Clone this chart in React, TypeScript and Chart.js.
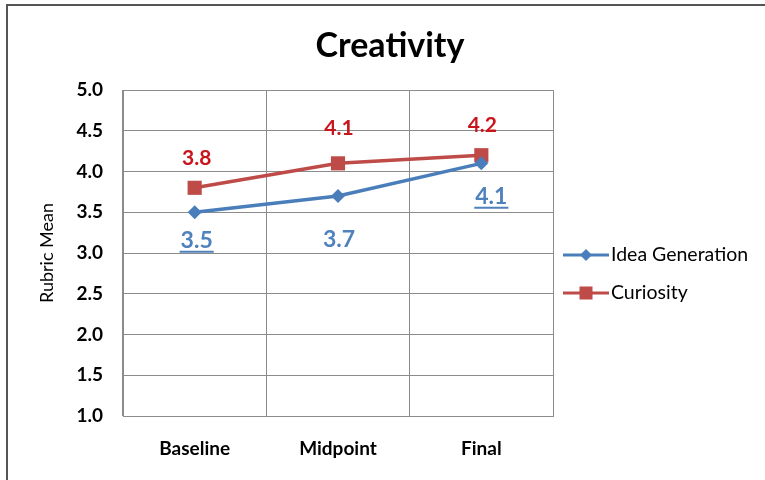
import React, { useEffect, useRef } from "react";
import { Chart, registerables } from "chart.js";

Chart.register(...registerables);

const chartTitle = "Creativity";
const yAxisTitle = "Rubric Mean";
const categories = ["Baseline", "Midpoint", "Final"];
const seriesNames = ["Idea Generation", "Curiosity"];
const ideaGeneration = [3.5, 3.7, 4.1];
const curiosity = [3.8, 4.1, 4.2];
const yMin = 1.0;
const yMax = 5.0;
const yStep = 0.5;

const BLUE = "#4A7EBB";
const RED = "#BE4B48";
const FONT = "Lato, 'DejaVu Sans', sans-serif";

// label placement relative to each point (Excel-style manually placed labels)
const labelStyles = [
  {
    color: "#4F81BD",
    dx: [2, 1, 10],
    dy: [28, 44, 33],
    underline: [true, false, true],
    weight: ["bold", "bold", "bold"],
    size: 23,
  },
  {
    color: "#C8151B",
    dx: [2, 1, 1],
    dy: [-30, -35, -30],
    underline: [false, false, false],
    weight: ["bold", "bold", "bold"],
    size: 21,
  },
];

const labelPlugin = {
  id: "valueLabels",
  afterDatasetsDraw(chart: any) {
    const ctx = chart.ctx;
    chart.data.datasets.forEach((ds: any, di: number) => {
      const meta = chart.getDatasetMeta(di);
      const st = labelStyles[di];
      meta.data.forEach((pt: any, i: number) => {
        const text = Number(ds.data[i]).toFixed(1);
        const x = pt.x + st.dx[i];
        const y = pt.y + st.dy[i];
        ctx.save();
        ctx.font = `${st.weight[i]} ${st.size}px ${FONT}`;
        ctx.fillStyle = st.color;
        ctx.textAlign = "center";
        ctx.textBaseline = "middle";
        ctx.fillText(text, x, y);
        if (st.underline[i]) {
          const w = ctx.measureText(text).width;
          ctx.strokeStyle = st.color;
          ctx.lineWidth = 2;
          ctx.beginPath();
          ctx.moveTo(x - w / 2 - 1, y + st.size * 0.5);
          ctx.lineTo(x + w / 2 + 1, y + st.size * 0.5);
          ctx.stroke();
        }
        ctx.restore();
      });
    });
  },
};

const titleLegendPlugin = {
  id: "titleLegend",
  afterDraw(chart: any) {
    const ctx = chart.ctx;
    ctx.save();
    ctx.font = `bold 34px ${FONT}`;
    ctx.fillStyle = "#000";
    ctx.textAlign = "center";
    ctx.textBaseline = "middle";
    ctx.fillText(chartTitle, 390, 46);

    const area = chart.chartArea;
    const lx = area.right + 10;
    const ys = [area.top + 165, area.top + 203];
    chart.data.datasets.forEach((ds: any, di: number) => {
      const y = ys[di];
      ctx.strokeStyle = ds.borderColor;
      ctx.lineWidth = 3;
      ctx.beginPath();
      ctx.moveTo(lx, y);
      ctx.lineTo(lx + 46, y);
      ctx.stroke();
      ctx.fillStyle = ds.backgroundColor;
      if (ds.pointStyle === "rect") {
        ctx.fillRect(lx + 23 - 6.5, y - 6.5, 13, 13);
      } else {
        ctx.beginPath();
        ctx.moveTo(lx + 23, y - 6);
        ctx.lineTo(lx + 29, y);
        ctx.lineTo(lx + 23, y + 6);
        ctx.lineTo(lx + 17, y);
        ctx.closePath();
        ctx.fill();
      }
      ctx.font = `19.5px ${FONT}`;
      ctx.fillStyle = "#000";
      ctx.textAlign = "left";
      ctx.textBaseline = "middle";
      ctx.fillText(ds.label, lx + 48, y);
    });
    ctx.restore();
  },
};

export default function App() {
  const ref = useRef<HTMLCanvasElement | null>(null);

  useEffect(() => {
    if (!ref.current) return;
    const chart = new Chart(ref.current, {
      type: "line",
      data: {
        labels: categories,
        datasets: [
          {
            label: seriesNames[0],
            data: ideaGeneration,
            borderColor: BLUE,
            backgroundColor: BLUE,
            borderWidth: 3.5,
            pointStyle: "rectRot",
            pointRadius: 7,
            pointBorderWidth: 0,
            tension: 0,
          },
          {
            label: seriesNames[1],
            data: curiosity,
            borderColor: RED,
            backgroundColor: RED,
            borderWidth: 3.5,
            pointStyle: "rect",
            pointRadius: 10,
            pointBorderWidth: 0,
            tension: 0,
          },
        ],
      },
      options: {
        responsive: false,
        animation: false,
        layout: { padding: { top: 90, right: 212, left: 0, bottom: 0 } },
        plugins: {
          legend: { display: false },
          title: { display: false },
          tooltip: { enabled: false },
        },
        scales: {
          x: {
            type: "category",
            offset: true,
            grid: { offset: true, color: "#8c8c8c", drawTicks: false, lineWidth: 1 },
            border: { color: "#8c8c8c" },
            ticks: {
              color: "#000",
              font: { family: FONT, size: 19, weight: "bold" },
              padding: 21,
            },
            afterFit: (s: any) => {
              s.height = 64;
            },
          },
          y: {
            min: yMin,
            max: yMax,
            grid: { color: "#8c8c8c", drawTicks: false, lineWidth: 1 },
            border: { color: "#8c8c8c" },
            ticks: {
              stepSize: yStep,
              color: "#000",
              font: { family: FONT, size: 19, weight: "bold" },
              padding: 20,
              callback: (v: any) => Number(v).toFixed(1),
            },
            title: {
              display: true,
              text: yAxisTitle,
              color: "#000",
              font: { family: FONT, size: 18, weight: "normal" },
              padding: { top: 36, bottom: 0 },
            },
            afterFit: (s: any) => {
              s.width = 123;
            },
          },
        },
      },
      plugins: [labelPlugin, titleLegendPlugin],
    });
    return () => chart.destroy();
  }, []);

  return (
    <div
      style={{
        position: "fixed",
        left: 0,
        top: 0,
        width: 765,
        height: 480,
        background: "#fff",
        overflow: "hidden",
      }}
    >
      <div
        style={{
          position: "absolute",
          left: 6,
          top: 4,
          width: 800,
          height: 500,
          borderLeft: "2px solid #555",
          borderTop: "2px solid #555",
          boxSizing: "border-box",
        }}
      />
      <canvas
        ref={ref}
        width={765}
        height={480}
        style={{ position: "absolute", left: 0, top: 0, display: "block" }}
      />
    </div>
  );
}
